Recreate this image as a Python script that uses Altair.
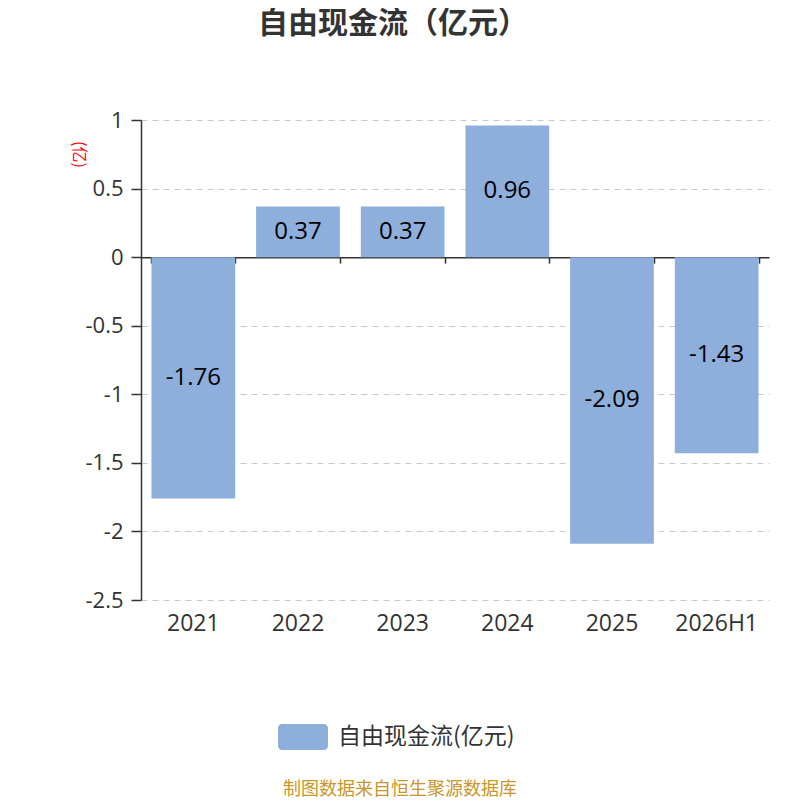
import altair as alt
import pandas as pd

categories = ["2021", "2022", "2023", "2024", "2025", "2026H1"]
values = [-1.76, 0.37, 0.37, 0.96, -2.09, -1.43]
series_name = "自由现金流(亿元)"
title_text = "自由现金流（亿元）"
unit_text = "(亿)"
footer_text = "制图数据来自恒生聚源数据库"
y_ticks = [-2.5, -2, -1.5, -1, -0.5, 0, 0.5, 1]

FONT = "Open Sans, Noto Sans CJK SC"
CJK = "Noto Sans CJK SC"
BAR = "#8eaedb"

df = pd.DataFrame({"cat": categories, "v": values, "series": [series_name] * len(values)})
df["label"] = [f"{v:.2f}" for v in values]

xscale = alt.Scale(domain=categories, paddingInner=0.2, paddingOuter=0.1)
yscale = alt.Scale(domain=[-2.5, 1], nice=False, zero=False)

yaxis = alt.Axis(
    values=y_ticks, labelExpr="'' + datum.value", labelFontSize=22, labelColor="#333",
    labelFont=FONT, labelPadding=8, tickSize=10, tickColor="#333", tickWidth=1.5,
    domainColor="#333", domainWidth=1.5, grid=True, gridDash=[6, 5], gridColor="#c8c8c8",
    gridWidth=1.2, title=unit_text, titleColor="red", titleFontSize=16, titleFont=CJK,
    titleFontWeight="normal", titleAngle=90, titleX=-63, titleY=34, titleAlign="center",
    titleBaseline="middle",
)

tick_axis = alt.Axis(
    orient="bottom", offset=-342.86, labels=False, title=None, domain=True,
    domainColor="#333", domainWidth=1.5, ticks=True, tickBand="extent", tickSize=6,
    tickColor="#333", tickWidth=1.5, grid=False,
)

label_axis = alt.Axis(
    orient="bottom", labels=True, title=None, domain=False, ticks=False, grid=False,
    labelFontSize=23, labelColor="#333", labelFont=FONT, labelPadding=12, labelAngle=0,
)

base = alt.Chart(df)

bars = base.mark_bar().encode(
    x=alt.X("cat:N", scale=xscale, axis=tick_axis, sort=categories),
    y=alt.Y("v:Q", scale=yscale, axis=yaxis),
    color=alt.Color(
        "series:N", scale=alt.Scale(range=[BAR]),
        legend=alt.Legend(
            orient="none", legendX=137, legendY=592, title=None, padding=0,
            symbolType="M-0.84,-0.52H0.84A0.16,0.16 0 0 1 1,-0.36V0.36A0.16,0.16 0 0 1 0.84,0.52H-0.84A0.16,0.16 0 0 1 -1,0.36V-0.36A0.16,0.16 0 0 1 -0.84,-0.52Z",
            symbolSize=2500, symbolStrokeWidth=0, symbolOpacity=1, labelFontSize=23,
            labelFont=CJK, labelColor="#333", labelOffset=10, labelLimit=400,
        ),
    ),
)

texts = base.mark_text(fontSize=24, font=FONT, color="black", baseline="middle").transform_calculate(
    mid="datum.v / 2"
).encode(
    x=alt.X("cat:N", scale=xscale, axis=label_axis, sort=categories),
    y=alt.Y("mid:Q", scale=yscale, axis=yaxis),
    text="label:N",
)

footer = alt.Chart(pd.DataFrame({"t": [footer_text]})).mark_text(
    fontSize=18, font=CJK, color="#c8962a", baseline="middle", align="center"
).encode(text="t:N", x=alt.value(259), y=alt.value(670))

title = alt.Chart(pd.DataFrame({"t": [title_text]})).mark_text(
    fontSize=30, font=CJK, fontWeight="bold", color="#333", baseline="middle", align="center"
).encode(text="t:N", x=alt.value(252), y=alt.value(-96))

chart = alt.layer(bars, texts, footer, title).resolve_axis(x="independent").properties(
    width=628, height=480,
    autosize=alt.AutoSizeParams(type="none"),
    padding={"left": 133, "top": 112, "right": 23, "bottom": 200},
).configure_view(stroke=None)

chart.save("out.html", embed_options={"renderer": "svg", "actions": False})
